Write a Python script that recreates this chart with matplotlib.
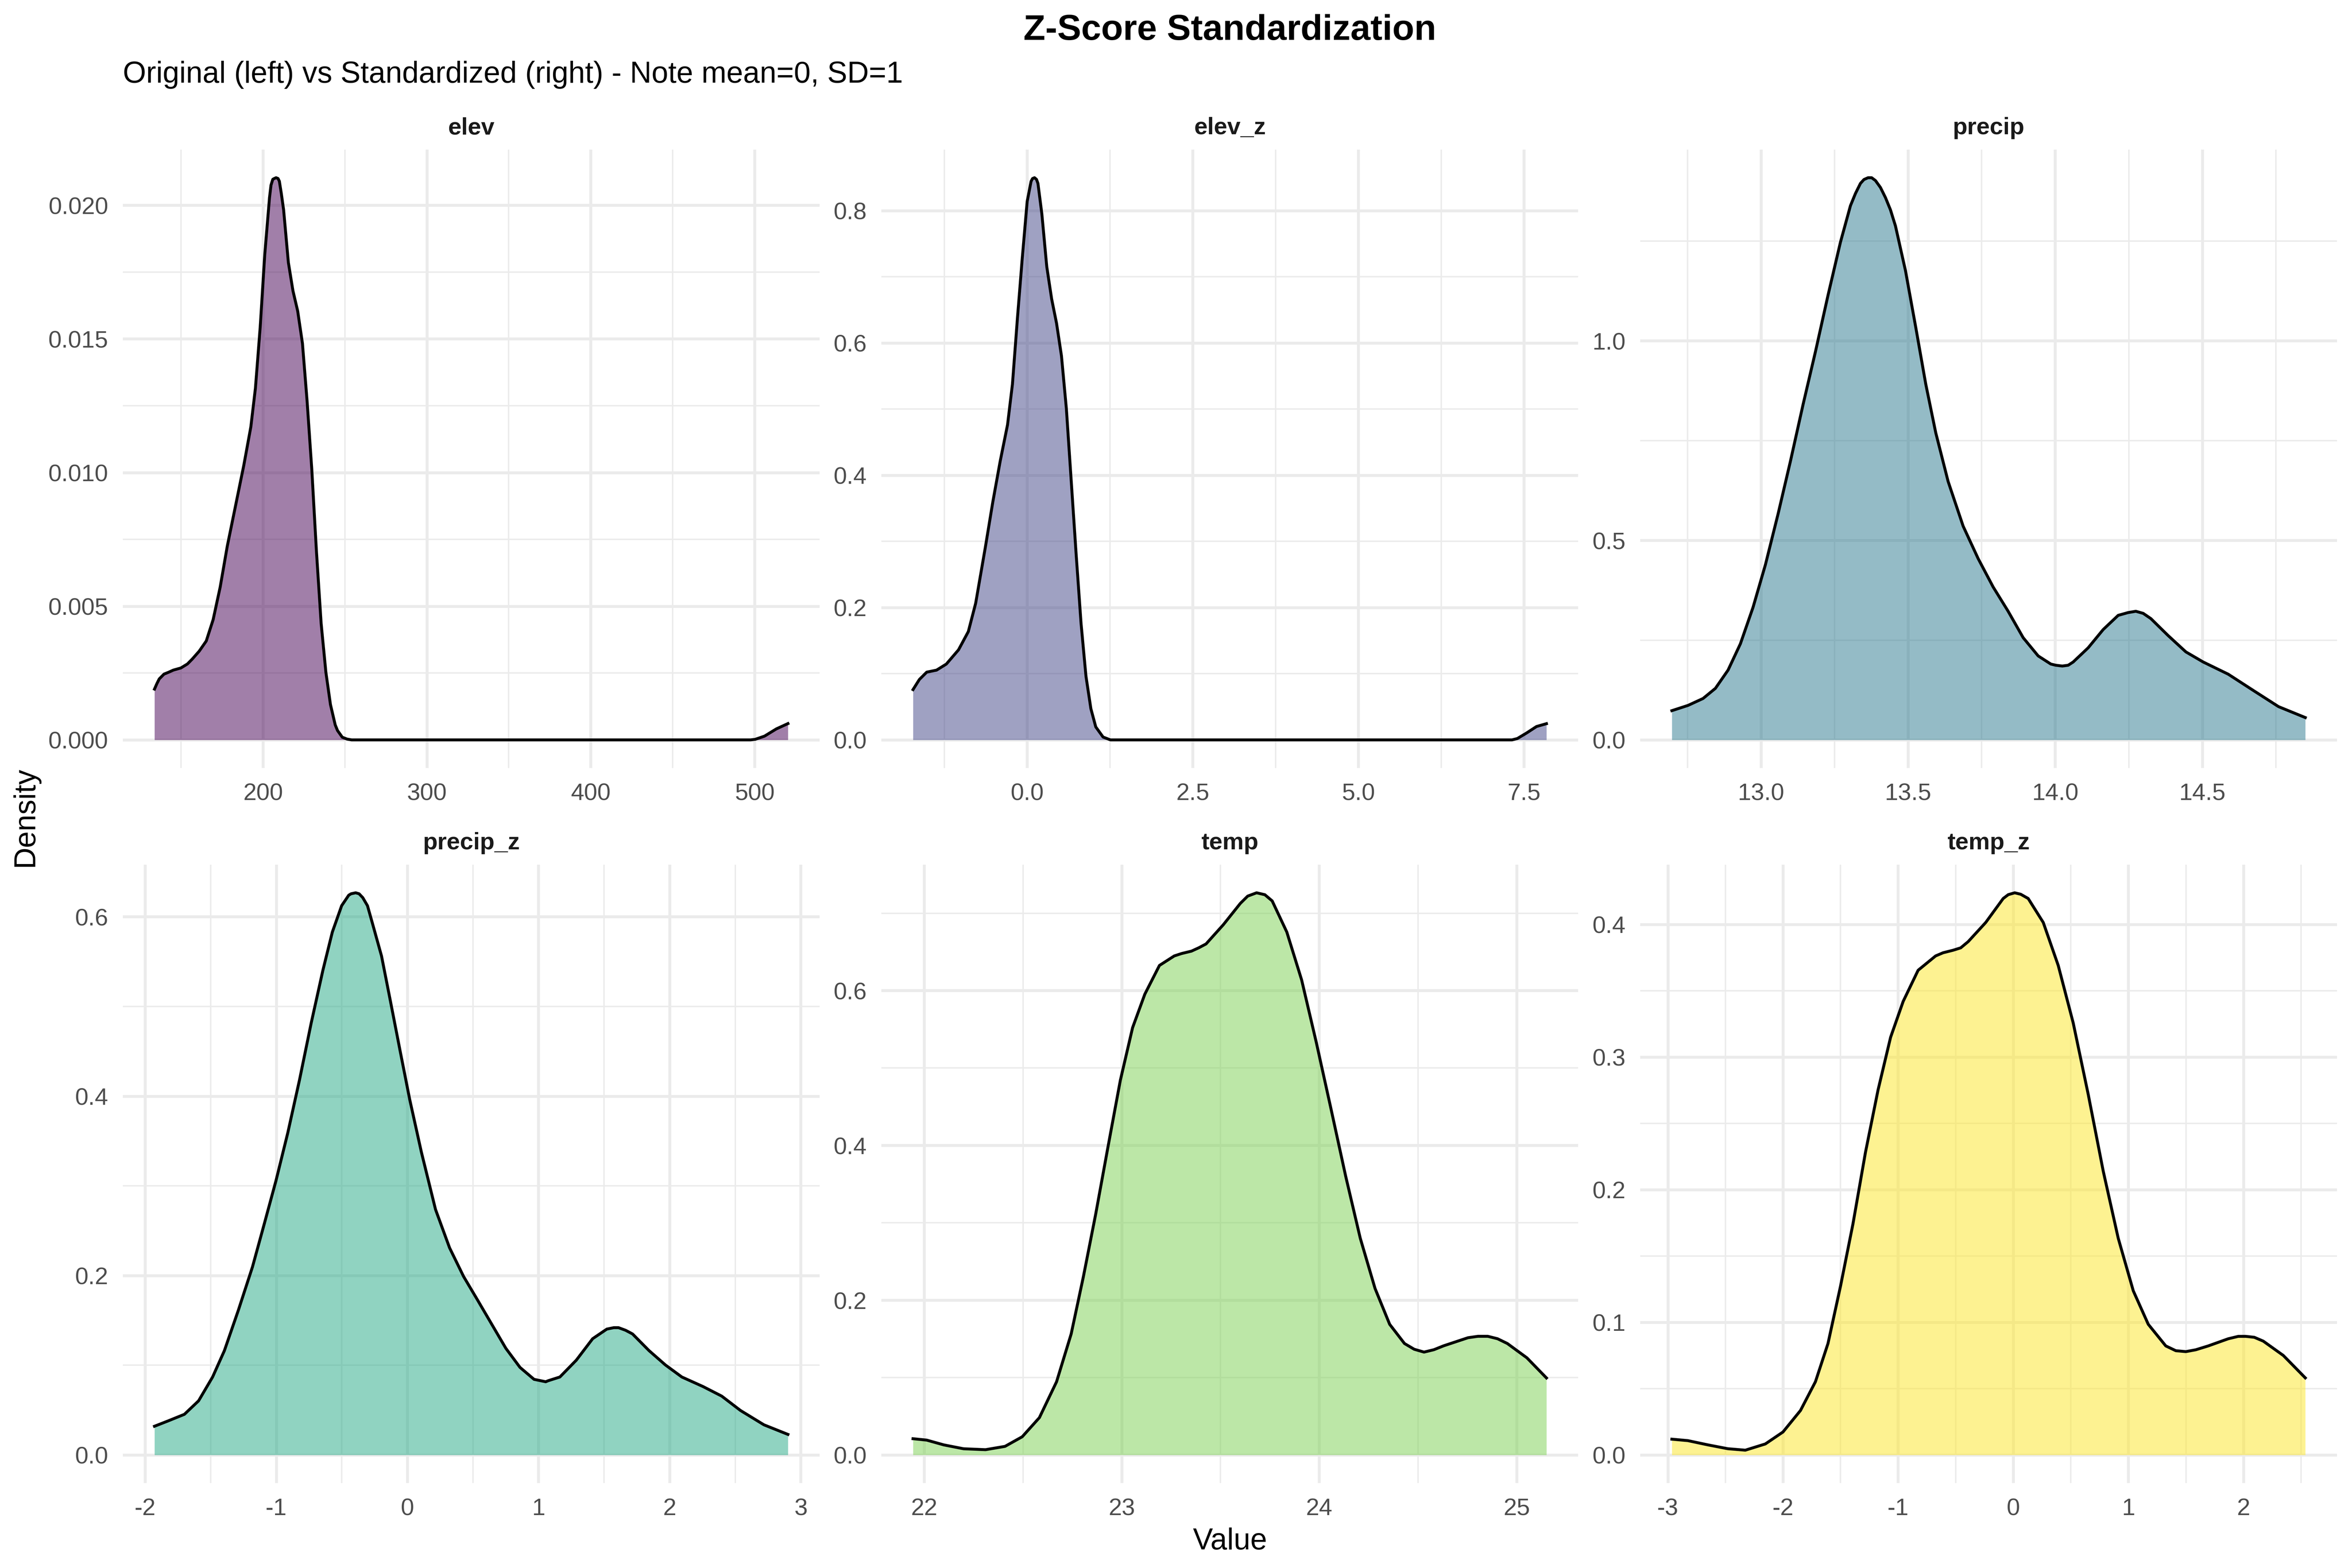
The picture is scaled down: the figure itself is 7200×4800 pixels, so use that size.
import numpy as np
import matplotlib
matplotlib.use("Agg")
import matplotlib.pyplot as plt
from matplotlib.ticker import FixedLocator, FixedFormatter

plt.rcParams['font.family'] = ['Liberation Sans', 'DejaVu Sans']

# density curves
elev_x = [133.8, 135.3, 136.7, 139.6, 142.4, 145.3, 149.9, 153.9, 156.8, 161.1, 165.4, 169.6, 173.9,
          178.2, 184.0, 188.3, 192.6, 195.4, 198.3, 201.1, 204.0, 204.9, 206.0, 206.9, 208.0, 209.2,
          210.0, 211.2, 212.6, 215.5, 218.3, 221.2, 224.1, 226.9, 229.8, 232.6, 235.5, 238.4, 241.2,
          244.1, 245.5, 248.4, 251.3, 254.1, 300.0, 400.0, 480.0, 497.6, 500.4, 506.1, 513.3, 520.4]
elev_y = [0.0019, 0.00211, 0.00228, 0.00246, 0.00253, 0.00261, 0.00269, 0.00284, 0.00302, 0.00332,
          0.0037, 0.0045, 0.00572, 0.00724, 0.00898, 0.01027, 0.01171, 0.01316, 0.01543, 0.01816,
          0.02029, 0.02075, 0.02097, 0.0210, 0.02103, 0.0210, 0.0209, 0.02044, 0.01983, 0.01786,
          0.0168, 0.01604, 0.01483, 0.0127, 0.01012, 0.00709, 0.00436, 0.00253, 0.00132, 0.00056,
          0.00035, 0.0001, 0.00003, 0.0, 0.0, 0.0, 0.0, 0.0, 0.00002, 0.00014, 0.00041, 0.00061]

elev_z_x = [-1.723, -1.627, -1.516, -1.368, -1.220, -1.036, -0.888, -0.777, -0.703, -0.629, -0.518,
            -0.407, -0.296, -0.222, -0.148, -0.074, 0.0, 0.059, 0.081, 0.111, 0.141, 0.163, 0.222,
            0.296, 0.370, 0.444, 0.518, 0.592, 0.666, 0.740, 0.814, 0.888, 0.962, 1.036, 1.146,
            1.257, 3.0, 5.0, 7.0, 7.32, 7.40, 7.54, 7.69, 7.84]
elev_z_y = [0.076, 0.0913, 0.1024, 0.1054, 0.1146, 0.1361, 0.1637, 0.2066, 0.2495, 0.2924, 0.3598,
            0.4212, 0.4763, 0.5376, 0.6357, 0.7277, 0.8135, 0.8441, 0.8484, 0.8497, 0.8472, 0.8411,
            0.7951, 0.7154, 0.6664, 0.6296, 0.5805, 0.5008, 0.3905, 0.2802, 0.1759, 0.0962, 0.0472,
            0.0196, 0.0043, 0.0, 0.0, 0.0, 0.0, 0.0, 0.002, 0.0104, 0.0202, 0.0245]

precip_x = [12.697, 12.752, 12.803, 12.845, 12.888, 12.930, 12.973, 13.015, 13.058, 13.100, 13.143,
            13.185, 13.228, 13.270, 13.304, 13.321, 13.338, 13.350, 13.364, 13.376, 13.389, 13.406,
            13.423, 13.440, 13.457, 13.491, 13.526, 13.560, 13.594, 13.636, 13.687, 13.738, 13.789,
            13.840, 13.891, 13.942, 13.985, 14.002, 14.024, 14.044, 14.061, 14.112, 14.163, 14.214,
            14.248, 14.274, 14.299, 14.325, 14.384, 14.444, 14.503, 14.588, 14.673, 14.759, 14.850]
precip_y = [0.0732, 0.0864, 0.1037, 0.1291, 0.1748, 0.2409, 0.3323, 0.4390, 0.5661, 0.6982, 0.8404,
            0.9726, 1.1148, 1.2470, 1.3384, 1.369, 1.3943, 1.404, 1.4085, 1.4085, 1.4014, 1.384,
            1.3587, 1.328, 1.2876, 1.1758, 1.0335, 0.8913, 0.7693, 0.6474, 0.5356, 0.4543, 0.3831,
            0.3222, 0.2561, 0.2104, 0.1900, 0.187, 0.1850, 0.187, 0.1951, 0.2307, 0.2764, 0.3120,
            0.319, 0.3222, 0.317, 0.3039, 0.2612, 0.2205, 0.1951, 0.1646, 0.1240, 0.0833, 0.0559]

precip_z_x = [-1.928, -1.825, -1.700, -1.592, -1.485, -1.395, -1.288, -1.181, -1.091, -1.002, -0.912,
              -0.823, -0.733, -0.644, -0.572, -0.501, -0.447, -0.429, -0.394, -0.368, -0.340, -0.304,
              -0.268, -0.197, -0.125, -0.054, 0.018, 0.107, 0.215, 0.322, 0.429, 0.537, 0.644, 0.751,
              0.859, 0.966, 1.055, 1.073, 1.163, 1.288, 1.413, 1.521, 1.574, 1.610, 1.664, 1.717,
              1.843, 1.968, 2.093, 2.254, 2.397, 2.540, 2.719, 2.902]
precip_z_y = [0.032, 0.0379, 0.0453, 0.0603, 0.0869, 0.1163, 0.1616, 0.2096, 0.2576, 0.3056, 0.3589,
              0.4176, 0.4816, 0.5403, 0.5829, 0.6123, 0.624, 0.6256, 0.6267, 0.6256, 0.6213, 0.6123,
              0.5936, 0.5563, 0.5029, 0.4496, 0.3963, 0.3376, 0.2736, 0.2309, 0.1989, 0.1723, 0.1456,
              0.1189, 0.0976, 0.0843, 0.0816, 0.0827, 0.0869, 0.1056, 0.1296, 0.1403, 0.1419, 0.1419,
              0.139, 0.1349, 0.1163, 0.1003, 0.0869, 0.0763, 0.0656, 0.0496, 0.0336, 0.0229]

temp_x = [21.943, 22.012, 22.099, 22.199, 22.310, 22.409, 22.496, 22.583, 22.670, 22.744, 22.806,
          22.868, 22.930, 22.993, 23.055, 23.117, 23.191, 23.266, 23.303, 23.353, 23.390, 23.427,
          23.514, 23.601, 23.638, 23.683, 23.725, 23.762, 23.836, 23.911, 23.985, 24.060, 24.134,
          24.208, 24.283, 24.357, 24.432, 24.481, 24.531, 24.581, 24.630, 24.754, 24.804, 24.854,
          24.903, 24.953, 25.052, 25.151]
temp_y = [0.021, 0.0192, 0.013, 0.008, 0.0068, 0.0111, 0.0235, 0.0482, 0.0946, 0.1564, 0.2306,
          0.311, 0.3975, 0.4841, 0.5521, 0.5954, 0.6325, 0.6448, 0.6479, 0.651, 0.6553, 0.6603,
          0.6850, 0.7128, 0.7221, 0.7264, 0.7239, 0.7159, 0.6757, 0.6139, 0.5335, 0.447, 0.3604,
          0.2801, 0.2151, 0.1688, 0.144, 0.1366, 0.1329, 0.136, 0.141, 0.1515, 0.1533, 0.1533,
          0.1502, 0.144, 0.1255, 0.0995]

temp_z_x = [-2.965, -2.826, -2.652, -2.479, -2.327, -2.153, -2.0, -1.848, -1.718, -1.609, -1.500,
            -1.392, -1.283, -1.174, -1.065, -0.956, -0.826, -0.674, -0.609, -0.522, -0.456, -0.391,
            -0.239, -0.087, -0.043, 0.013, 0.065, 0.130, 0.261, 0.391, 0.521, 0.652, 0.782, 0.912,
            1.043, 1.173, 1.325, 1.412, 1.499, 1.586, 1.694, 1.868, 1.955, 2.020, 2.094, 2.172,
            2.346, 2.537]
temp_z_y = [0.0119, 0.0108, 0.0076, 0.0047, 0.0036, 0.0083, 0.0173, 0.0335, 0.0552, 0.084, 0.1273,
            0.1742, 0.2283, 0.2752, 0.3149, 0.3419, 0.3654, 0.3762, 0.3786, 0.3805, 0.3823, 0.387,
            0.4014, 0.4195, 0.4224, 0.4238, 0.4227, 0.4195, 0.4014, 0.369, 0.3257, 0.2716, 0.2139,
            0.1634, 0.1237, 0.0985, 0.0822, 0.0786, 0.0779, 0.0793, 0.0822, 0.0876, 0.0894, 0.0894,
            0.0887, 0.0858, 0.075, 0.0581]

names = ['elev', 'elev_z', 'precip', 'precip_z', 'temp', 'temp_z']
xs = [elev_x, elev_z_x, precip_x, precip_z_x, temp_x, temp_z_x]
ys = [elev_y, elev_z_y, precip_y, precip_z_y, temp_y, temp_z_y]
colors = ['#440154', '#414487', '#2A788E', '#22A884', '#7AD151', '#FDE725']

x_breaks = [[200, 300, 400, 500], [0, 2.5, 5, 7.5], [13, 13.5, 14, 14.5],
            [-2, -1, 0, 1, 2, 3], [22, 23, 24, 25], [-3, -2, -1, 0, 1, 2]]
x_labels = [['200', '300', '400', '500'], ['0.0', '2.5', '5.0', '7.5'],
            ['13.0', '13.5', '14.0', '14.5'], ['-2', '-1', '0', '1', '2', '3'],
            ['22', '23', '24', '25'], ['-3', '-2', '-1', '0', '1', '2']]
y_breaks = [[0, 0.005, 0.01, 0.015, 0.02], [0, 0.2, 0.4, 0.6, 0.8], [0, 0.5, 1.0],
            [0, 0.2, 0.4, 0.6], [0, 0.2, 0.4, 0.6], [0, 0.1, 0.2, 0.3, 0.4]]
y_labels = [['0.000', '0.005', '0.010', '0.015', '0.020'], ['0.0', '0.2', '0.4', '0.6', '0.8'],
            ['0.0', '0.5', '1.0'], ['0.0', '0.2', '0.4', '0.6'], ['0.0', '0.2', '0.4', '0.6'],
            ['0.0', '0.1', '0.2', '0.3', '0.4']]

W, H = 7200, 4800
fig = plt.figure(figsize=(12, 8), dpi=600)

col_left = [376, 2698, 5021]
row_top = [458, 2647]
pw, ph = 2133, 1893

def minors(br):
    step = br[1] - br[0]
    return [br[0] - step / 2] + [b + step / 2 for b in br]

for i in range(6):
    r, c = i // 3, i % 3
    ax = fig.add_axes([col_left[c] / W, 1 - (row_top[r] + ph) / H, pw / W, ph / H])
    x = np.array(xs[i])
    y = np.array(ys[i])
    ax.fill_between(x, y, 0, color=colors[i], alpha=0.5, lw=0, zorder=2)
    ax.plot(x, y, color='black', lw=1.07, zorder=3, solid_joinstyle='round')
    xr = x.max() - x.min()
    ax.set_xlim(x.min() - 0.05 * xr, x.max() + 0.05 * xr)
    ax.set_ylim(-0.05 * y.max(), 1.05 * y.max())
    ax.xaxis.set_major_locator(FixedLocator(x_breaks[i]))
    ax.xaxis.set_major_formatter(FixedFormatter(x_labels[i]))
    ax.yaxis.set_major_locator(FixedLocator(y_breaks[i]))
    ax.yaxis.set_major_formatter(FixedFormatter(y_labels[i]))
    ax.xaxis.set_minor_locator(FixedLocator(minors(x_breaks[i])))
    ax.yaxis.set_minor_locator(FixedLocator(minors(y_breaks[i])))
    ax.grid(which='major', color='#EBEBEB', lw=1.07, zorder=0)
    ax.grid(which='minor', color='#EBEBEB', lw=0.53, zorder=0)
    ax.set_axisbelow(True)
    for s in ax.spines.values():
        s.set_visible(False)
    ax.tick_params(which='both', length=0, labelsize=8.8, labelcolor='#4D4D4D')
    ax.tick_params(axis='x', pad=5.5)
    ax.tick_params(axis='y', pad=5.4)
    ax.set_title(names[i], fontsize=8.8, fontweight='bold', color='#1A1A1A', pad=5.6)

fig.text(3765 / W, 1 - 122 / H, 'Z-Score Standardization', ha='center', va='baseline',
         fontsize=13.2, fontweight='bold')
fig.text(376 / W, 1 - 253 / H, 'Original (left) vs Standardized (right) - Note mean=0, SD=1',
         ha='left', va='baseline', fontsize=11)
fig.text(3765 / W, 1 - 4719 / H, 'Value', ha='center', va='center', fontsize=11)
fig.text(78 / W, 1 - 2500 / H, 'Density', ha='center', va='center', rotation=90, fontsize=11)

fig.savefig('out.png', dpi=600, facecolor='white')
